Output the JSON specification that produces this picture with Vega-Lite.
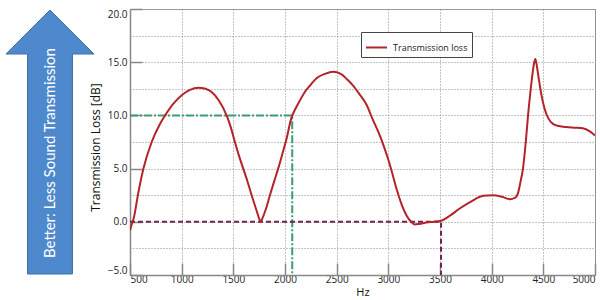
{
  "$schema": "https://vega.github.io/schema/vega-lite/v6.json",
  "padding": {"left": 0, "top": 7, "right": 5, "bottom": 2},
  "background": "white",
  "spacing": 30,
  "bounds": "flush",
  "hconcat": [
    {
      "width": 100,
      "height": 266,
      "view": {"stroke": null},
      "data": {"values": [{"label": "Better: Less Sound Transmission"}]},
      "layer": [
        {
          "mark": {"type": "point", "shape": "M0,-3L1,-2L0.51,-2L0.51,3L-0.51,3L-0.51,-2L-1,-2Z", "size": 7744, "filled": true, "color": "#4d89cc", "opacity": 1, "stroke": "#3d6fa6", "strokeWidth": 1},
          "encoding": {}
        },
        {
          "mark": {"type": "text", "angle": 270, "color": "white", "font": "Lato", "fontSize": 15, "dx": -11, "align": "center", "baseline": "middle"},
          "encoding": {"text": {"field": "label"}}
        }
      ]
    },
    {
      "width": 465,
      "height": 266,
      "resolve": {"axis": {"y": "independent"}},
      "layer": [
        {
          "data": {"values": [
            {"hz": 500, "db": 10, "i": 1},
            {"hz": 2070, "db": 10, "i": 2},
            {"hz": 2070, "db": -5, "i": 3}
          ]},
          "mark": {"type": "line", "color": "#3c9c72", "strokeWidth": 2, "strokeDash": [8, 2, 2, 2]},
          "encoding": {
            "x": {"field": "hz", "type": "quantitative", "scale": {"domain": [500, 5000], "nice": false}},
            "y": {"field": "db", "type": "quantitative", "scale": {"domain": [-5, 20], "nice": false},
                  "axis": {"orient": "left", "values": [-2.5, 0, 2.5, 5, 7.5, 10, 12.5, 15, 17.5], "labels": false, "ticks": false, "domain": false, "grid": true, "title": null}},
            "order": {"field": "i"}
          }
        },
        {
          "data": {"values": [
            {"hz": 500, "db": 0, "i": 1},
            {"hz": 3510, "db": 0, "i": 2},
            {"hz": 3510, "db": -5, "i": 3}
          ]},
          "mark": {"type": "line", "color": "#6e2350", "strokeWidth": 2, "strokeDash": [5, 3]},
          "encoding": {
            "x": {"field": "hz", "type": "quantitative"},
            "y": {"field": "db", "type": "quantitative", "axis": null},
            "order": {"field": "i"}
          }
        },
        {
          "data": {"values": [
            {"hz": 500, "db": -0.8}, {"hz": 515, "db": -0.3}, {"hz": 535, "db": 0.3}, {"hz": 580, "db": 2.7},
            {"hz": 630, "db": 5.0}, {"hz": 710, "db": 7.5}, {"hz": 790, "db": 9.2}, {"hz": 840, "db": 10.0},
            {"hz": 920, "db": 11.1}, {"hz": 1000, "db": 11.9}, {"hz": 1080, "db": 12.4}, {"hz": 1160, "db": 12.6},
            {"hz": 1230, "db": 12.5}, {"hz": 1290, "db": 12.2}, {"hz": 1360, "db": 11.4}, {"hz": 1435, "db": 10.0},
            {"hz": 1475, "db": 8.9}, {"hz": 1515, "db": 7.5}, {"hz": 1555, "db": 6.2}, {"hz": 1596, "db": 5.0},
            {"hz": 1640, "db": 3.7}, {"hz": 1677, "db": 2.5}, {"hz": 1720, "db": 1.2}, {"hz": 1750, "db": 0.3},
            {"hz": 1764, "db": 0.0}, {"hz": 1780, "db": 0.3}, {"hz": 1815, "db": 1.2}, {"hz": 1854, "db": 2.5},
            {"hz": 1895, "db": 3.8}, {"hz": 1934, "db": 5.0}, {"hz": 1975, "db": 6.4}, {"hz": 2015, "db": 7.8},
            {"hz": 2060, "db": 9.7}, {"hz": 2100, "db": 10.6}, {"hz": 2144, "db": 11.4}, {"hz": 2192, "db": 12.2},
            {"hz": 2250, "db": 12.9}, {"hz": 2305, "db": 13.5}, {"hz": 2386, "db": 13.9}, {"hz": 2466, "db": 14.1},
            {"hz": 2540, "db": 13.9}, {"hz": 2600, "db": 13.4}, {"hz": 2659, "db": 12.8}, {"hz": 2720, "db": 12.0},
            {"hz": 2789, "db": 11.0}, {"hz": 2850, "db": 9.6}, {"hz": 2918, "db": 8.1}, {"hz": 2960, "db": 7.0},
            {"hz": 2998, "db": 5.9}, {"hz": 3040, "db": 4.5}, {"hz": 3079, "db": 3.1}, {"hz": 3130, "db": 1.6},
            {"hz": 3176, "db": 0.6}, {"hz": 3220, "db": 0.0}, {"hz": 3256, "db": -0.25}, {"hz": 3300, "db": -0.2},
            {"hz": 3369, "db": -0.07}, {"hz": 3440, "db": 0.0}, {"hz": 3514, "db": 0.1}, {"hz": 3600, "db": 0.6},
            {"hz": 3691, "db": 1.25}, {"hz": 3800, "db": 1.9}, {"hz": 3917, "db": 2.44}, {"hz": 4013, "db": 2.5},
            {"hz": 4100, "db": 2.35}, {"hz": 4175, "db": 2.13}, {"hz": 4225, "db": 2.25}, {"hz": 4255, "db": 2.7},
            {"hz": 4280, "db": 3.8}, {"hz": 4303, "db": 5.0}, {"hz": 4330, "db": 7.5}, {"hz": 4352, "db": 10.0},
            {"hz": 4375, "db": 12.2}, {"hz": 4394, "db": 13.8}, {"hz": 4410, "db": 14.9}, {"hz": 4423, "db": 15.3},
            {"hz": 4438, "db": 14.6}, {"hz": 4455, "db": 13.5}, {"hz": 4480, "db": 12.0}, {"hz": 4513, "db": 10.6},
            {"hz": 4550, "db": 9.7}, {"hz": 4593, "db": 9.2}, {"hz": 4650, "db": 9.0}, {"hz": 4723, "db": 8.9},
            {"hz": 4800, "db": 8.85}, {"hz": 4883, "db": 8.8}, {"hz": 4950, "db": 8.5}, {"hz": 5000, "db": 8.1}
          ]},
          "mark": {"type": "line", "strokeWidth": 2, "interpolate": "monotone", "clip": true},
          "encoding": {
            "x": {"field": "hz", "type": "quantitative", "title": "Hz"},
            "y": {"field": "db", "type": "quantitative",
                  "axis": {"orient": "left", "values": [-5, 0, 5, 10, 15, 20], "format": ".1f", "grid": false, "title": "Transmission Loss [dB]", "titleFontSize": 12, "titlePadding": 5, "titleY": 138}},
            "color": {"datum": "Transmission loss", "type": "nominal", "scale": {"range": ["#b5232a"]},
                      "legend": {"orient": "none", "legendX": 361, "legendY": 23, "title": null, "symbolType": "stroke", "symbolStrokeWidth": 2, "symbolSize": 441, "labelFont": "Open Sans", "labelFontSize": 9, "labelColor": "#222", "padding": 4, "strokeColor": "#444", "fillColor": "white", "labelOffset": 5}}
          }
        }
      ]
    }
  ],
  "config": {
    "view": {"stroke": "#999", "strokeWidth": 1},
    "axis": {
      "domainColor": "#888",
      "domainWidth": 1.5,
      "tickColor": "#888",
      "tickWidth": 1.5,
      "tickSize": -12,
      "labelPadding": 13,
      "labelFont": "Open Sans",
      "labelFontSize": 10,
      "labelColor": "#222",
      "labelFlush": true,
      "titleFont": "Open Sans",
      "titleFontWeight": "normal",
      "titleColor": "#111",
      "gridColor": "#888",
      "gridDash": [1, 2],
      "gridWidth": 1
    },
    "axisX": {"tickCount": 10, "format": "d", "grid": true, "titleFontSize": 11, "titlePadding": 2, "labelPadding": 11},
    "axisY": {"labelPadding": 15}
  }
}
